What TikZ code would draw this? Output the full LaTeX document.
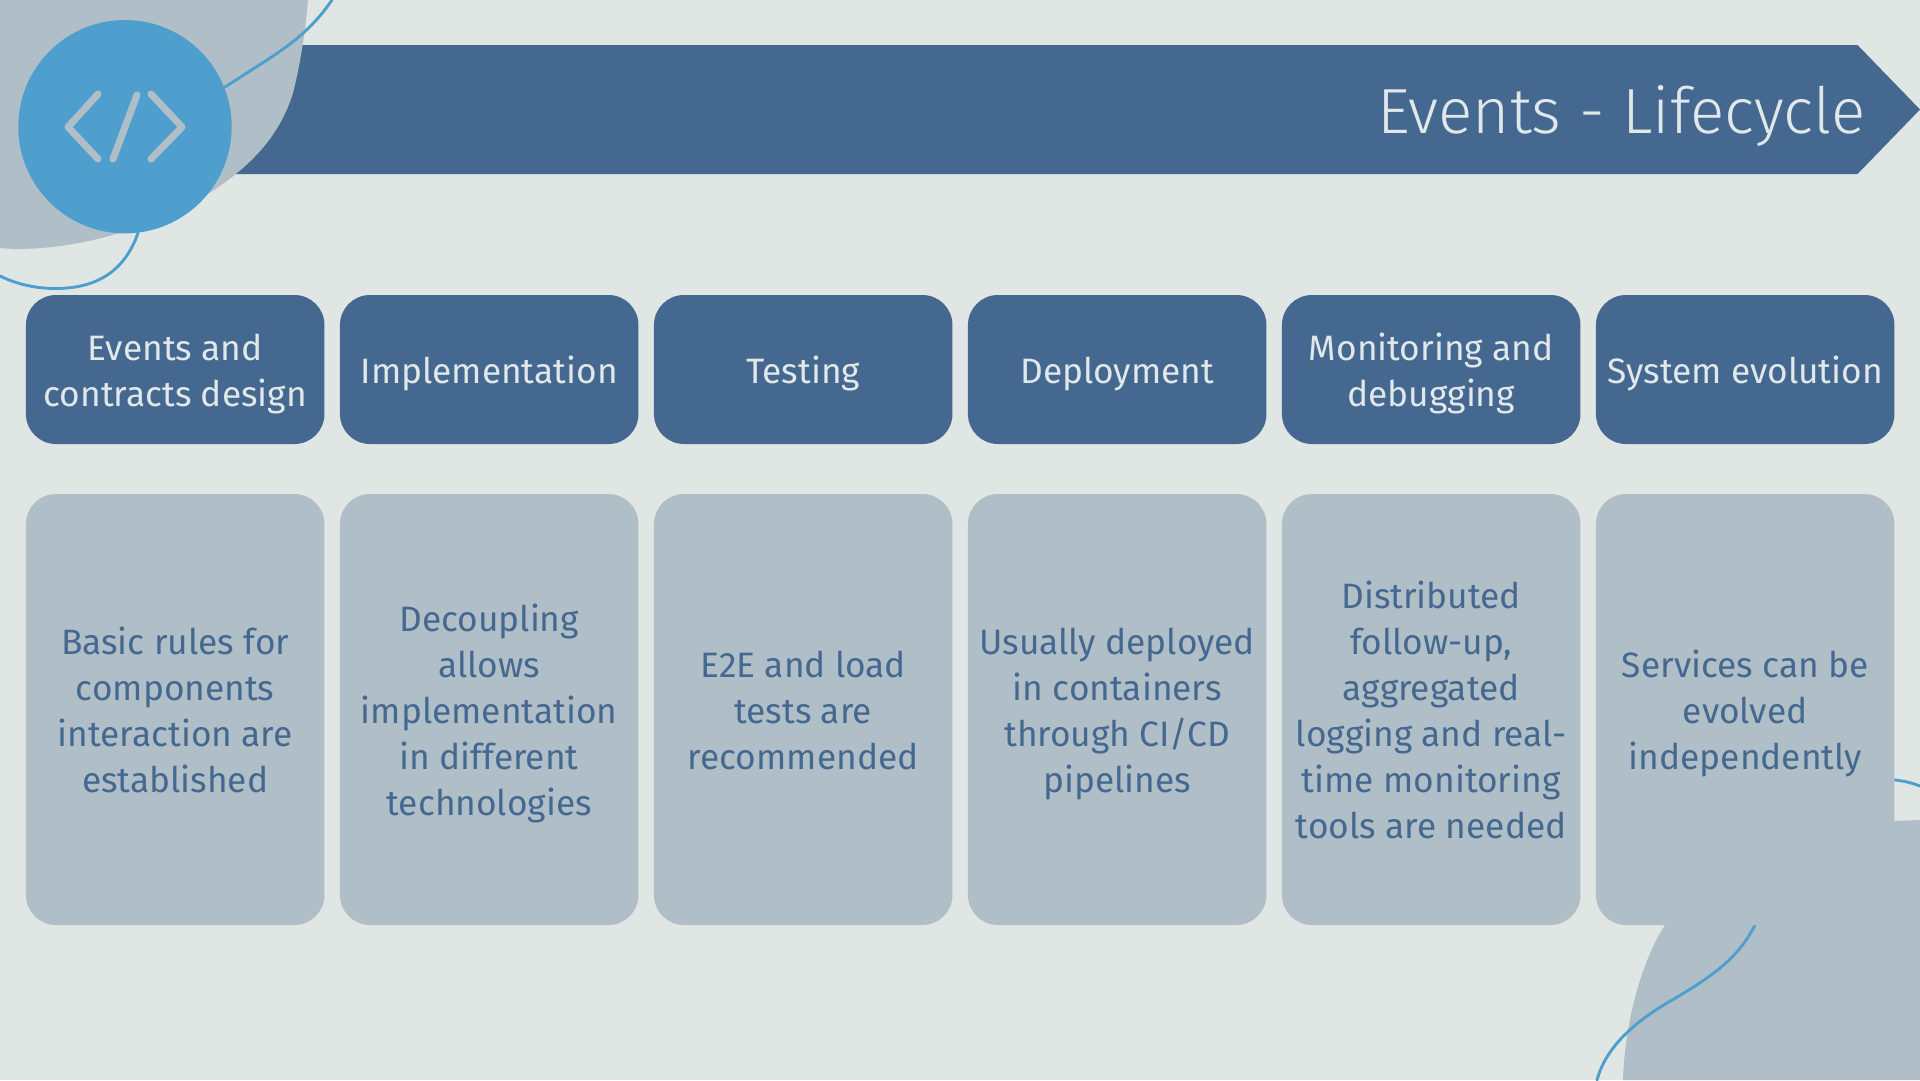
\documentclass[tikz,border=0pt]{standalone}
\usepackage{fontspec}
\setmainfont{Fira Sans}
\newfontfamily\titlefont{Fira Sans Light}
\definecolor{bgc}{HTML}{E0E6E3}
\definecolor{darkb}{HTML}{44688F}
\definecolor{lightb}{HTML}{B0BFC7}
\definecolor{circb}{HTML}{4E9FCD}
\definecolor{paleb}{HTML}{E0E8EA}
\newcommand{\topst}{\rule{0pt}{36pt}}
\newcommand{\botst}{\rule[-9pt]{0pt}{9pt}}
\tikzset{
 cardtext/.style={rounded corners=30pt,minimum width=298.5pt,inner sep=0pt,align=center,font=\fontsize{35.3}{46}\selectfont},
 headbox/.style={cardtext,fill=darkb,minimum height=149pt,text=paleb},
 bodybox/.style={cardtext,fill=lightb,minimum height=431pt,text=darkb},
 wiggle/.style={draw=circb,line width=2.9pt,line cap=round},
 iconline/.style={draw=lightb,line width=7pt,line cap=round,line join=round}
}
\begin{document}
\begin{tikzpicture}[x=1pt,y=-1pt]
\useasboundingbox (0,0) rectangle (1920,1080);
\fill[bgc] (0,0) rectangle (1920,1080);
% banner
\fill[darkb] (200,45) -- (1857.5,45) -- (1920,109.5) -- (1857.5,174) -- (200,174) -- cycle;
% top-left blob
\fill[lightb] (0,0) -- (308,0) .. controls (305,35) and (300,65) .. (293,93) .. controls (283,125) and (265,150) .. (237,173) .. controls (200,205) and (110,250) .. (13,249) -- (0,248) -- cycle;
\draw[wiggle] (332,0) .. controls (315,25) and (295,42) .. (267,60) -- (225,87);
\draw[wiggle] (138,233) .. controls (128,262) and (108,282) .. (75,287) .. controls (50,291) and (22,287) .. (0,276);
% bottom-right blob
\fill[lightb] (1920,820) -- (1895,821) -- (1665,925) .. controls (1645,955) and (1625,1015) .. (1623,1080) -- (1920,1080) -- cycle;
\fill[lightb] (1665,925) rectangle (1895,1080);
\draw[wiggle] (1755,925) .. controls (1738,958) and (1715,975) .. (1667,1003) .. controls (1630,1025) and (1605,1050) .. (1597,1080);
\draw[wiggle] (1895,780) .. controls (1905,781) and (1912,783) .. (1920,786);
% circle + icon
\node[circle,fill=circb,minimum size=213.4pt,inner sep=0pt] (badge) at (125,126.7) {};
\draw[iconline] (98,94) -- (68,127) -- (98,159);
\draw[iconline] (151,94) -- (182,127) -- (151,159);
\draw[iconline] (137,95) -- (113,159);
% title
\node[anchor=base east,text=paleb,inner sep=0pt,font=\titlefont\fontsize{63.8}{70}\selectfont] (title) at (1866,133) {Events - Lifecycle};
% headers
\node[headbox] (h1) at (175.2,369.5) {\topst Events and\\contracts design\botst};
\node[headbox] (h2) at (489.2,369.5) {\topst Implementation\botst};
\node[headbox] (h3) at (803.2,369.5) {\topst Testing\botst};
\node[headbox] (h4) at (1117.2,369.5) {\topst Deployment\botst};
\node[headbox] (h5) at (1431.2,369.5) {\topst Monitoring and\\debugging\botst};
\node[headbox] (h6) at (1745.2,369.5) {\topst System evolution\botst};
% bodies
\node[bodybox] (b1) at (175.2,709.5) {\topst Basic rules for\\components\\interaction are\\established\botst};
\node[bodybox] (b2) at (489.2,709.5) {\topst Decoupling\\allows\\implementation\\in different\\technologies\botst};
\node[bodybox] (b3) at (803.2,709.5) {\topst E2E and load\\tests are\\recommended\botst};
\node[bodybox] (b4) at (1117.2,709.5) {\topst Usually deployed\\in containers\\through CI/CD\\pipelines\botst};
\node[bodybox] (b5) at (1431.2,709.5) {\topst Distributed\\follow-up,\\aggregated\\logging and real-\\time monitoring\\tools are needed\botst};
\node[bodybox] (b6) at (1745.2,709.5) {\topst Services can be\\evolved\\independently\botst};
\end{tikzpicture}
\end{document}
